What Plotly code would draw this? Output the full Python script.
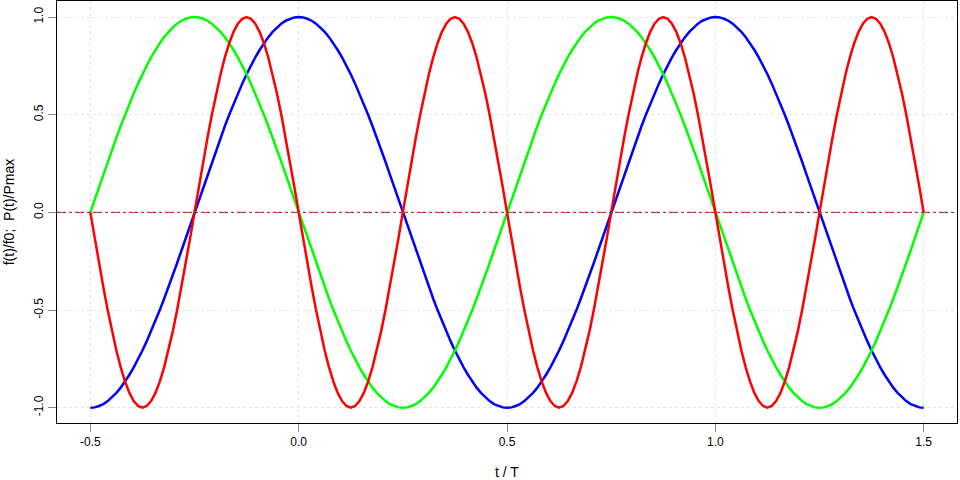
import plotly.graph_objects as go

# t / T sampled every 1/96 of a period
t = [-0.5 + i / 96 for i in range(193)]

# quarter-wave shape (3.75 degree steps)
q = [0.0, 0.065, 0.131, 0.195, 0.259, 0.321, 0.383, 0.442, 0.5, 0.556, 0.609, 0.659,
     0.707, 0.752, 0.793, 0.831, 0.866, 0.897, 0.924, 0.947, 0.966, 0.981, 0.991, 0.998, 1.0]
half = q + q[-2::-1]                      # 0 -> 1 -> 0
period = half[:-1] + [-v for v in half[:-1]]   # 96 samples

# green: starts at 0, rises to 1 at t=-0.25
green = period * 2 + [0.0]
# blue: starts at -1, peaks at t=0 and t=1
blue = [-(period[(i + 24) % 96]) for i in range(192)] + [-1.0]
# red: twice the frequency, starts at 0 and falls to -1 at t=-0.375
rq = q[::2]
rhalf = rq + rq[-2::-1]
rperiod = [-v for v in rhalf[:-1]] + rhalf[:-1]
red = rperiod * 4 + [0.0]

x_ticks = [-0.5, 0.0, 0.5, 1.0, 1.5]
x_labels = ["-0.5", "0.0", "0.5", "1.0", "1.5"]
y_ticks = [-1.0, -0.5, 0.0, 0.5, 1.0]
y_labels = ["-1.0", "-0.5", "0.0", "0.5", "1.0"]

fig = go.Figure()
for ys, col in [(blue, "#0000ff"), (green, "#00ff00"), (red, "#ff0000")]:
    fig.add_trace(go.Scatter(x=t, y=ys, mode="lines",
                             line=dict(color=col, width=2.5),
                             showlegend=False, hoverinfo="skip"))

# zero line
fig.add_shape(type="line", xref="paper", yref="y", x0=0, x1=1, y0=0, y1=0,
              line=dict(color="#444444", width=1, dash="dot"), layer="above")
fig.add_shape(type="line", xref="paper", yref="y", x0=0, x1=1, y0=0, y1=0,
              line=dict(color="#d03030", width=1, dash="dash"), layer="above")

fig.update_layout(
    width=960, height=480,
    margin=dict(l=57, r=3, t=1, b=57),
    plot_bgcolor="white", paper_bgcolor="white",
    font=dict(family="Liberation Sans, Arial, sans-serif", size=12, color="black"),
    xaxis=dict(range=[-0.58, 1.58], tickvals=x_ticks, ticktext=x_labels, automargin=False,
               showgrid=True, gridcolor="#e4e4e4", griddash="dot", gridwidth=1,
               zeroline=False, showline=True, mirror=True, linecolor="black", linewidth=1,
               ticks="outside", ticklen=8, tickcolor="#888888",
               title=dict(text="t / T", standoff=24)),
    yaxis=dict(range=[-1.078, 1.082], tickvals=y_ticks, ticktext=y_labels, tickangle=-90,
               automargin=False,
               showgrid=True, gridcolor="#e4e4e4", griddash="dot", gridwidth=1,
               zeroline=False, showline=True, mirror=True, linecolor="black", linewidth=1,
               ticks="outside", ticklen=8, tickcolor="#888888",
               title=dict(text="f(t)/f0;  P(t)/Pmax", standoff=14)),
)

fig.write_html("out.html", config={"displayModeBar": False},
               post_script="document.body.style.margin='0';")
